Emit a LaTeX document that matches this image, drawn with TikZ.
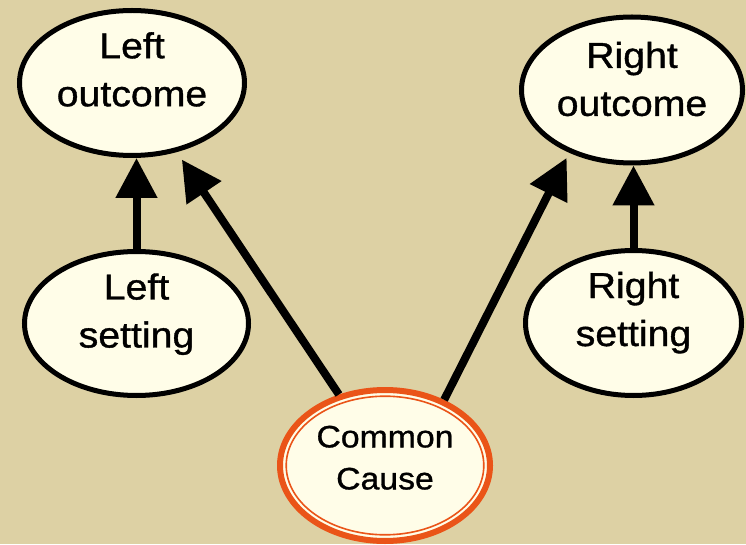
\documentclass[tikz,border=0pt]{standalone}
\usepackage{fontspec}
\setmainfont{Liberation Sans}[FakeStretch=1.09,FakeBold=1.0]
\usetikzlibrary{shapes.geometric,arrows.meta,calc}
\definecolor{bg}{RGB}{221,209,164}
\definecolor{cream}{RGB}{255,253,232}
\definecolor{ccor}{RGB}{234,84,24}
\tikzset{
  oval/.style={ellipse, draw=black, line width=5pt, fill=cream, inner sep=0pt},
  lbl/.style={align=center, font=\fontsize{36}{48}\selectfont, inner sep=0pt},
  cclbl/.style={align=center, font=\fontsize{31}{42}\selectfont, inner sep=0pt},
  arr/.style={line width=8pt, -{Triangle[length=40pt,width=40pt]}},
}
\begin{document}
\begin{tikzpicture}[x=1pt,y=1pt]
\fill[bg] (0,0) rectangle (746,544);
\useasboundingbox (0,0) rectangle (746,544);

\node[oval, minimum width=225pt, minimum height=145pt] (lo) at (132,461) {};
\node[oval, minimum width=221pt, minimum height=146pt] (ro) at (632,454) {};
\node[oval, minimum width=224pt, minimum height=144pt] (ls) at (136.5,220.5) {};
\node[oval, minimum width=216pt, minimum height=145pt] (rs) at (633.5,221) {};
\node[ellipse, draw=ccor, line width=6pt, fill=cream, inner sep=0pt,
      minimum width=210pt, minimum height=151pt] (cc) at (385,78.5) {};
\draw[ccor, line width=1.6pt] (cc.center) ellipse [x radius=98.8pt, y radius=69.3pt];

\node[lbl] (lot) at ($(lo.center)+(0,13.6)$) {Left\\outcome};
\node[lbl] (rot) at ($(ro.center)+(0,11)$) {Right\\outcome};
\node[lbl] (lst) at ($(ls.center)+(0,9.3)$) {Left\\setting};
\node[lbl] (rst) at ($(rs.center)+(0,10.3)$) {Right\\setting};
\node[cclbl] (cct) at ($(cc.center)+(0,7.8)$) {Common\\Cause};

\draw[arr] (ls.north) -- (ls.north |- lo.south);
\draw[arr] (rs.north) -- (rs.north |- ro.south);
\draw[arr, shorten >=9pt] (cc.123.3) -- (lo.303.1);
\draw[arr, shorten >=5.7pt] (cc.48.8) -- (ro.225.3);
\end{tikzpicture}
\end{document}
